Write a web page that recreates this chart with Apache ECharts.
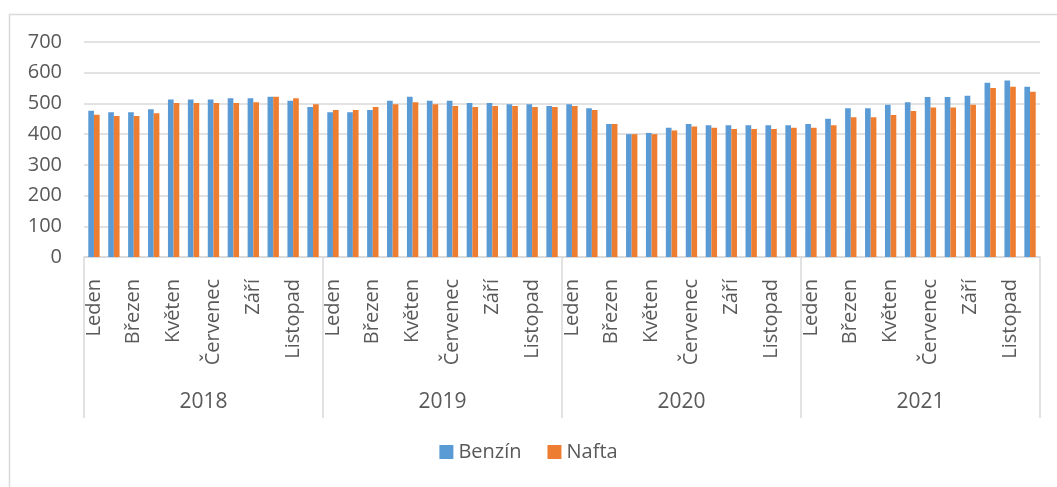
<!DOCTYPE html>
<html lang="cs">
<head>
    <meta charset="UTF-8">
    <title>Benzín a Nafta 2018-2021</title>
    <script src="https://cdn.jsdelivr.net/npm/echarts@6/dist/echarts.min.js"></script>
    <style>
        html, body { margin: 0; padding: 0; background: #fff; }
        #container { width: 1057px; height: 487px; }
    </style>
</head>
<body>
<div id="container"></div>
<script>
    var years = ['2018', '2019', '2020', '2021'];
    var months = ['Leden', 'Únor', 'Březen', 'Duben', 'Květen', 'Červen',
                  'Červenec', 'Srpen', 'Září', 'Říjen', 'Listopad', 'Prosinec'];
    var benzin = [
        476, 471, 471, 481, 513, 513, 513, 517, 517, 522, 509, 488,
        471, 471, 479, 509, 522, 509, 509, 501, 501, 497, 497, 492,
        497, 484, 433, 400, 404, 421, 433, 429, 429, 429, 429, 429,
        433, 450, 484, 484, 496, 504, 521, 521, 525, 567, 575, 554
    ];
    var nafta = [
        463, 459, 459, 468, 501, 501, 501, 501, 504, 522, 517, 497,
        479, 479, 488, 497, 504, 497, 492, 488, 492, 492, 488, 488,
        492, 479, 433, 400, 400, 412, 425, 421, 417, 417, 417, 421,
        421, 429, 455, 455, 462, 475, 487, 487, 496, 550, 554, 538
    ];

    // 48 kategorii = 4 roky x 12 mesicu
    var categories = [];
    for (var y = 0; y < years.length; y++) {
        for (var m = 0; m < months.length; m++) {
            categories.push(months[m]);
        }
    }

    var txt = '#595959';
    var line = '#d9d9d9';
    var font = 'Open Sans';

    var chart = echarts.init(document.getElementById('container'));
    var option = {
        textStyle: { fontFamily: font },
        animation: false,
        graphic: [{
            type: 'rect',
            left: 7, top: 12,
            shape: { width: 1200, height: 700 },
            style: { fill: 'none', stroke: line, lineWidth: 1.5 },
            silent: true
        }],
        legend: {
            bottom: 20,
            left: 'center',
            itemWidth: 14,
            itemHeight: 14,
            itemGap: 26,
            icon: 'rect',
            textStyle: { color: txt, fontSize: 20, fontFamily: font }
        },
        grid: {
            left: 84,
            right: 17,
            top: 42,
            bottom: 230,
            containLabel: false
        },
        xAxis: [{
            type: 'category',
            data: categories,
            axisLine: { lineStyle: { color: line, width: 1.5 } },
            axisTick: { show: false },
            axisLabel: {
                interval: 1,
                rotate: 90,
                margin: 22,
                color: txt,
                fontSize: 20,
                fontFamily: font
            }
        }, {
            type: 'category',
            data: years,
            position: 'bottom',
            boundaryGap: true,
            axisLine: { show: false },
            axisTick: {
                show: true,
                interval: 0,
                length: 161,
                lineStyle: { color: line, width: 1.5 }
            },
            axisLabel: {
                interval: 0,
                margin: 135,
                color: txt,
                fontSize: 21,
                fontFamily: font
            }
        }],
        yAxis: {
            type: 'value',
            min: 0,
            max: 700,
            interval: 100,
            axisLine: { show: false },
            axisTick: { show: false },
            axisLabel: {
                color: txt,
                fontSize: 20,
                fontFamily: font,
                margin: 22
            },
            splitLine: { lineStyle: { color: line, width: 1.5 } }
        },
        series: [{
            name: 'Benzín',
            type: 'bar',
            data: benzin,
            barGap: '0%',
            barCategoryGap: '43%',
            itemStyle: { color: '#5B9BD5' }
        }, {
            name: 'Nafta',
            type: 'bar',
            data: nafta,
            itemStyle: { color: '#ED7D31' }
        }]
    };
    chart.setOption(option);

    window.onresize = function () {
        chart.resize();
    };
</script>
</body>
</html>
